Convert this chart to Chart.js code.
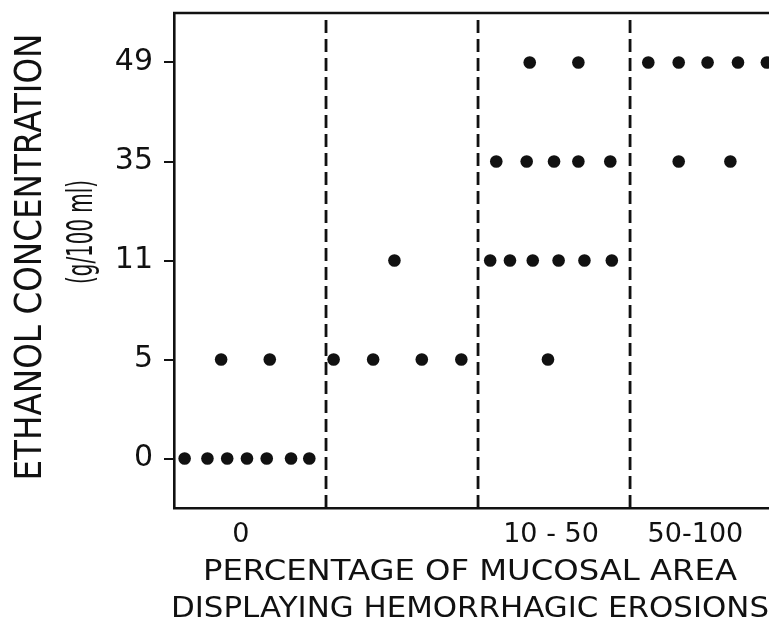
<!DOCTYPE html>
<html>
<head>
<meta charset="utf-8">
<script src="https://cdn.jsdelivr.net/npm/chart.js@4.4.1/dist/chart.umd.min.js"></script>
<style>
  html, body { margin: 0; padding: 0; background: #fff; overflow: hidden; }
  #wrap { position: relative; width: 769px; height: 630px; }
</style>
</head>
<body>
<div id="wrap"><canvas id="chart"></canvas></div>
<script>
// ethanol concentration levels (g/100 ml), shown bottom to top at equal spacing
const concentrations = ['0', '5', '11', '35', '49'];

// erosion groups along the x axis (each group is one unit wide)
const erosionGroups = ['0', '', '10 - 50', '50-100'];
const groupLabelAt = [0.44, 1.45, 2.48, 3.43];
const groupBoundaries = [1, 2, 3];

// one entry per animal: position inside its group, and the concentration given
const animalX = [
    0.07, 0.22, 0.35, 0.48, 0.61, 0.77, 0.89,
    0.31, 0.63,
    1.05, 1.31, 1.63, 1.89,
    1.45,
    2.08, 2.21, 2.36, 2.53, 2.70, 2.88,
    2.46,
    2.12, 2.32, 2.50, 2.66, 2.87,
    2.34, 2.66,
    3.12, 3.32, 3.51, 3.71, 3.90,
    3.32, 3.66
];
const animalConc = [
    '0', '0', '0', '0', '0', '0', '0',
    '5', '5',
    '5', '5', '5', '5',
    '11',
    '11', '11', '11', '11', '11', '11',
    '5',
    '35', '35', '35', '35', '35',
    '49', '49',
    '49', '49', '49', '49', '49',
    '35', '35'
];

const yTitle = ['ETHANOL CONCENTRATION', '(g/100 ml)'];
const xTitle = ['PERCENTAGE OF MUCOSAL AREA', 'DISPLAYING HEMORRHAGIC EROSIONS'];

const INK = '#111';
const Y_MIN = -0.5, Y_MAX = concentrations.length - 0.5;

const points = animalX.map((x, i) => ({ x: x, y: concentrations.indexOf(animalConc[i]) }));

const dividerSets = groupBoundaries.map(b => ({
    type: 'line',
    data: [{ x: b, y: Y_MIN }, { x: b, y: Y_MAX }],
    borderColor: INK,
    borderWidth: 2.8,
    borderDash: [13, 6],
    pointRadius: 0,
    fill: false
}));

// draws the hand-lettered titles (condensed to fit) and the top frame line
function drawLettering(ctx, text, cx, cy, font, width, rotated) {
    ctx.save();
    ctx.translate(cx, cy);
    if (rotated) ctx.rotate(-Math.PI / 2);
    ctx.font = font;
    const w = ctx.measureText(text).width;
    ctx.scale(width / w, 1);
    ctx.fillStyle = INK;
    ctx.textAlign = 'center';
    ctx.textBaseline = 'middle';
    ctx.fillText(text, 0, 0);
    ctx.restore();
}

const letteringPlugin = {
    id: 'lettering',
    afterDraw(chart) {
        const ctx = chart.ctx;
        const a = chart.chartArea;
        ctx.save();
        ctx.strokeStyle = INK;
        ctx.lineWidth = 2.6;
        ctx.beginPath();
        ctx.moveTo(a.left - 1, a.top);
        ctx.lineTo(chart.width, a.top);
        ctx.stroke();
        ctx.restore();

        drawLettering(ctx, yTitle[0], 31, 257, '38px "DejaVu Sans", sans-serif', 447, true);
        drawLettering(ctx, yTitle[1], 83, 232, '35px "DejaVu Sans", sans-serif', 104, true);
        drawLettering(ctx, xTitle[0], 470, 573, '28px "DejaVu Sans", sans-serif', 534, false);
        drawLettering(ctx, xTitle[1], 470, 609, '29px "DejaVu Sans", sans-serif', 598, false);
    }
};

function noEdgePadding(s) {
    s.paddingTop = 0;
    s.paddingBottom = 0;
    s.paddingLeft = 0;
    s.paddingRight = 0;
}

new Chart(document.getElementById('chart'), {
    type: 'scatter',
    data: {
        datasets: [{
            data: points,
            backgroundColor: INK,
            borderWidth: 0,
            pointRadius: 6.3,
            pointHoverRadius: 6.3
        }].concat(dividerSets)
    },
    options: {
        responsive: true,
        maintainAspectRatio: false,
        animation: false,
        layout: { autoPadding: false, padding: { top: 13, right: 0, left: 0, bottom: 0 } },
        plugins: {
            legend: { display: false },
            tooltip: { enabled: false }
        },
        scales: {
            x: {
                type: 'linear',
                min: 0,
                max: 3.914,
                afterFit: s => { s.height = 122; noEdgePadding(s); },
                afterBuildTicks: s => { s.ticks = groupLabelAt.map(v => ({ value: v })); },
                grid: { display: false, drawTicks: false },
                border: { display: true, color: INK, width: 2.6 },
                ticks: {
                    padding: 11,
                    color: INK,
                    maxRotation: 0,
                    autoSkip: false,
                    font: { family: '"DejaVu Sans", sans-serif', size: 27 },
                    callback: (v, i) => erosionGroups[i]
                }
            },
            y: {
                type: 'linear',
                min: Y_MIN,
                max: Y_MAX,
                afterFit: s => { s.width = 174; noEdgePadding(s); },
                afterBuildTicks: s => { s.ticks = concentrations.map((c, i) => ({ value: i })); },
                grid: { display: true, drawOnChartArea: false, drawTicks: true, tickLength: 10, color: INK, lineWidth: 2 },
                border: { display: true, color: INK, width: 2.6 },
                ticks: {
                    padding: 11,
                    color: INK,
                    font: { family: '"DejaVu Sans", sans-serif', size: 30 },
                    callback: v => concentrations[v]
                }
            }
        }
    },
    plugins: [letteringPlugin]
});
</script>
</body>
</html>
